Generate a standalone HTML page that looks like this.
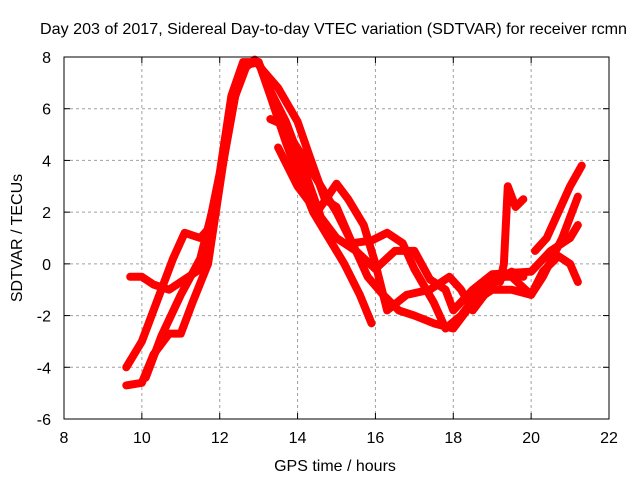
<!DOCTYPE html>
<html><head><meta charset="utf-8"><style>
html,body{margin:0;padding:0;background:#fff;}
svg{display:block;font-family:"Liberation Sans",sans-serif;}
</style></head><body>
<svg id="chart" width="640" height="480" viewBox="0 0 640 480" xmlns="http://www.w3.org/2000/svg">
<rect width="640" height="480" fill="#fff"/>
<text x="40" y="34" font-size="16" textLength="587" lengthAdjust="spacingAndGlyphs" fill="#000">Day 203 of 2017, Sidereal Day-to-day VTEC variation (SDTVAR) for receiver rcmn</text>
<g id="grid"></g>
<g id="series"></g>
<rect x="64" y="57" width="545" height="362" fill="none" stroke="#000" stroke-width="1"/>
<g id="ticks"></g>
<text x="335" y="471" font-size="16" text-anchor="middle">GPS time / hours</text>
<text transform="translate(22,238) rotate(-90)" font-size="16" text-anchor="middle">SDTVAR / TECUs</text>
</svg>
<script>
const xTicks=[8,10,12,14,16,18,20,22];
const yTicks=[-6,-4,-2,0,2,4,6,8];
const trace1=[[9.6,-4.7],[10,-4.6],[10.3,-3.5],[10.7,-2.7],[11,-2.7],[11.3,-1.5],[11.7,0],[12,3],[12.3,6],[12.6,7.5],[12.9,7.9],[13.1,7.5],[13.5,6.8],[14,5.5],[14.3,4.2],[14.7,2.5],[15,2.2],[15.4,0.8],[15.9,0.9],[16.3,1.2],[16.7,0.8],[17,-0.2],[17.5,-1.5],[17.8,-2.5],[18.2,-2],[18.6,-1.2],[19,-0.5],[19.5,-0.5],[20,-1.2],[20.3,-0.5],[20.8,1],[21.2,2.6]];
const trace2=[[9.6,-4],[10,-3],[10.5,-1],[10.8,0.2],[11.1,1.2],[11.5,1],[11.8,1.5],[12.1,4],[12.4,6.5],[12.7,7.7],[13,7.8],[13.3,6.5],[13.7,4.7],[14,3.5],[14.4,2],[14.8,1],[15.2,0],[15.6,-1.2],[15.9,-2.3]];
const trace3=[[9.7,-0.5],[10,-0.5],[10.3,-0.8],[10.7,-1],[11,-0.7],[11.5,-0.2],[12,3.5],[12.3,6.5],[12.6,7.8],[13,7.8],[13.2,7],[13.7,5.5],[14.2,3.5],[14.6,1.8],[15,1],[15.5,0.5],[16,-0.2],[16.5,0.5],[17,0.5],[17.4,-0.6],[17.8,-1],[18,-1.8],[18.5,-1],[19,-0.4],[20,-0.3],[20.5,0.5],[21,1],[21.2,1.5]];
const trace4=[[13.3,5.6],[13.6,5.4],[14.2,4],[14.6,3],[15,2],[15.5,0.5],[15.8,-0.5],[16.2,-1.2],[16.6,-1.8],[17,-2],[17.5,-2.3],[18,-2.5],[18.5,-1.5],[19,-1],[19.5,-1],[20,-1.2],[20.3,-0.3],[20.7,0.3],[21,0],[21.2,-0.7]];
const trace5=[[13.5,4.5],[14,3],[14.5,2],[15,3.1],[15.3,2.5],[15.7,1.5],[16,0],[16.3,-1.8],[16.8,-1.2],[17.4,-1],[17.9,-0.5],[18.2,-1],[18.5,-1.8],[19,-0.8],[19.5,-0.3],[19.8,-0.5]];
const trace6=[[19.2,-0.7],[19.3,0],[19.4,3],[19.6,2.2],[19.8,2.5]];
const trace7=[[20.1,0.5],[20.4,1],[20.7,2],[21,3],[21.3,3.8]];
const trace8=[[10.1,-4.4],[10.5,-2.8],[11,-1.2],[11.5,0.2],[11.8,2]];
const traces=[trace1,trace2,trace3,trace4,trace5,trace6,trace7,trace8];
const NS="http://www.w3.org/2000/svg";
const X0=64,X1=609,Y0=419,Y1=57;
const sx=v=>X0+(v-8)/(22-8)*(X1-X0);
const sy=v=>Y0-(v+6)/(8+6)*(Y0-Y1);
const grid=document.getElementById('grid'),ticks=document.getElementById('ticks'),ser=document.getElementById('series');
function mk(t,a,p){const e=document.createElementNS(NS,t);for(const k in a)e.setAttribute(k,a[k]);p.appendChild(e);return e;}
xTicks.forEach(v=>{
  const x=sx(v);
  if(v>8&&v<22){const g=mk('line',{x1:x,x2:x,y1:Y1,y2:Y0,stroke:'#a0a0a0','stroke-dasharray':'3,3'},grid);
  
  }
  const t=mk('line',{x1:x,x2:x,y1:Y0,y2:Y0-6,stroke:'#000'},ticks);
  
  
  const t2=mk('line',{x1:x,x2:x,y1:Y1,y2:Y1+6,stroke:'#000'},ticks);
  
  
  const l=mk('text',{x:x,y:443,'font-size':16,'text-anchor':'middle'},ticks);l.textContent=v;
  
  
});
yTicks.forEach(v=>{
  const y=sy(v);
  if(v>-6&&v<8){const g=mk('line',{x1:X0,x2:X1,y1:y,y2:y,stroke:'#a0a0a0','stroke-dasharray':'3,3'},grid);
  
  }
  const t=mk('line',{x1:X0,x2:X0+6,y1:y,y2:y,stroke:'#000'},ticks);
  
  
  const t2=mk('line',{x1:X1,x2:X1-6,y1:y,y2:y,stroke:'#000'},ticks);
  
  
  const l=mk('text',{x:51,y:y+6,'font-size':16,'text-anchor':'end'},ticks);l.textContent=v;
  
  
});
traces.forEach((tr,i)=>{
  const p=mk('polyline',{points:tr.map(d=>sx(d[0])+','+sy(d[1])).join(' '),fill:'none',stroke:'#ff0000','stroke-width':8,'stroke-linejoin':'round','stroke-linecap':'round'},ser);
  
  
});
</script>
</body></html>
